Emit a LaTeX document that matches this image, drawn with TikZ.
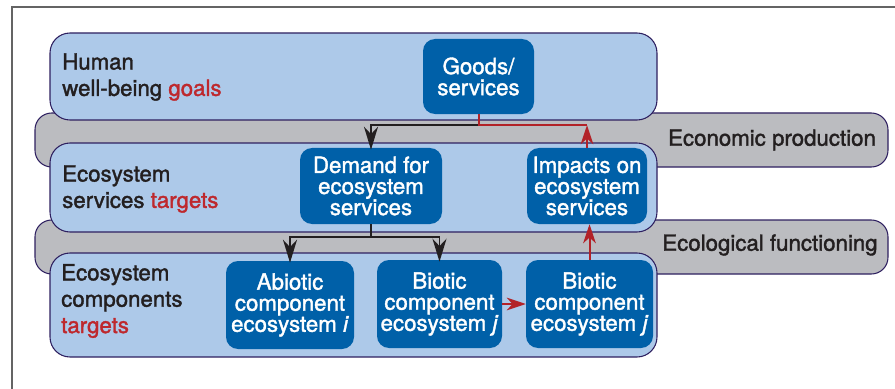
\documentclass[tikz,border=0pt]{standalone}
\usepackage{fontspec}
\setmainfont{TeX Gyre Heros}[FakeBold=1.6]
\usetikzlibrary{arrows.meta}
\definecolor{panelblue}{RGB}{173,201,233}
\definecolor{boxblue}{RGB}{0,96,168}
\definecolor{bandgray}{RGB}{187,188,192}
\definecolor{rimpurple}{RGB}{46,32,96}
\definecolor{goalred}{RGB}{190,40,45}
\definecolor{arrowred}{RGB}{178,34,40}
\definecolor{inkgray}{RGB}{35,31,32}
\definecolor{framegray}{RGB}{100,100,100}
\tikzset{
  panel/.style={fill=panelblue,draw=rimpurple,line width=0.9pt,rounded corners=6mm},
  band/.style={fill=bandgray,draw=rimpurple,line width=0.9pt,rounded corners=5mm},
  box/.style={fill=boxblue,text=white,rounded corners=3.6mm,align=center,inner sep=0pt,
    font=\fontsize{19}{18}\selectfont},
  lbl/.style={text=inkgray,align=left,anchor=west,inner sep=0pt,font=\fontsize{19}{22.5}\selectfont},
  bandlbl/.style={text=inkgray,inner sep=0pt,font=\fontsize{19}{22.5}\selectfont},
  blackline/.style={line width=1.7pt,inkgray},
  flow/.style={blackline,shorten >=-0.6mm,-{Stealth[length=6.9mm,width=4.2mm,inset=2.2mm]}},
  redline/.style={line width=1.7pt,arrowred},
  impact/.style={redline,-{Stealth[length=5.7mm,width=3.8mm,inset=1.7mm]}}
}
\begin{document}
\begin{tikzpicture}[x=0.3mm,y=-0.3mm]
      \useasboundingbox (0,0) rectangle (895,389);
      \draw[framegray,line width=1.2pt] (12,389) -- (12,7) -- (895,7);
      \draw[band] (35,113) rectangle (888,167);
      \draw[band] (35,220) rectangle (888,274);
      \draw[panel] (50,33) rectangle (657,120);
      \draw[panel] (50,143) rectangle (657,232);
      \draw[panel] (50,253) rectangle (657,357);
      \node[bandlbl] (econ) at (772,140) {Economic production};
      \node[bandlbl] (ecol) at (770,245) {Ecological functioning};
      \node[lbl] (human) at (62,77) {Human\\well-being \textcolor{goalred}{goals}};
      \node[lbl] (esgoal) at (62,189) {Ecosystem\\services \textcolor{goalred}{targets}};
      \node[lbl] (ecgoal) at (61,301) {Ecosystem\\components\\\textcolor{goalred}{targets}};
      \node[box,minimum width=33.3mm,minimum height=22.5mm] (goods) at (478.5,76.5) {Goods/\\services};
      \node[box,minimum width=42.6mm,minimum height=22.8mm] (demand) at (371,186) {Demand for\\ecosystem\\services};
      \node[box,minimum width=36mm,minimum height=22.8mm] (impacts) at (587,186) {Impacts on\\ecosystem\\services};
      \node[box,minimum width=38.4mm,minimum height=26.4mm] (abiotic) at (290,305) {Abiotic\\component\\ecosystem \textit{i}};
      \node[box,minimum width=37.5mm,minimum height=26.4mm] (bioticA) at (439.5,304) {Biotic\\component\\ecosystem \textit{j}};
      \node[box,minimum width=38.1mm,minimum height=26.4mm] (bioticB) at (589.5,304) {Biotic\\component\\ecosystem \textit{j}};
      \path (goods.south) ++(0,11) coordinate (split);
      \path (demand.south) ++(0,13) coordinate (fork);
      \draw[flow] (split) -| (demand.north);
      \draw[redline] (goods.south) -- (split) -- (impacts.north |- split);
      \draw[impact] (impacts.north) -- (impacts.north |- split);
      \draw[blackline] (demand.south) -- (fork);
      \draw[flow] (fork) -| (abiotic.north);
      \draw[flow] (fork) -| (bioticA.north);
      \draw[impact] (bioticA.east) -- (bioticB.west);
      \draw[impact] (bioticB.north) -- (bioticB.north |- impacts.south);
\end{tikzpicture}
\end{document}
